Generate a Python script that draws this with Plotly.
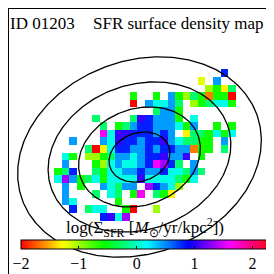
import numpy as np
import plotly.graph_objects as go

_ = None
# log SFR surface density per map pixel; rows 8..27, columns 6..29 of a 36x36 map
ROW0, COL0, N_PIX = 8, 6, 36
r08 = [_]*22 + [0.8, _]
r09 = [_]*19 + [-1.2, _, 0.45, _, _]
r10 = [_]*20 + [-1.0, -0.6, -1.3, -0.25]
r11 = [_]*10 + [-0.6, _, _, -0.6, _, 0.45, -0.6, -1.0, -0.25, -0.6, -1.65, -0.6, -0.6, -2.0]
r12 = [_]*10 + [-2.0, _, 0.45, 0.1, 0.1, 0.45, -0.25, _, -1.0, -0.6, -0.25, 0.1, 0.1, -0.6]
r13 = [_]*13 + [-0.25, 0.45, 0.45, -0.6] + [_]*7
r14 = [_]*5 + [-0.25] + [_]*4 + [-0.25, 1.05, 0.8, 0.45, 0.45, 0.45, -0.6, _, 0.1] + [_]*5
r15 = [_]*6 + [-0.25, _, -0.6, -0.25, 0.45, 0.8, 0.8, 0.45, 0.45, 0.45, 0.1, -0.6, 0.45, _, _, -0.6, _, -0.6]
r16 = [_]*6 + [1.6, 0.1, 1.05, 1.05, 0.8, 0.8, 0.8, 0.45, 0.8, 0.45, _, -1.3, -0.25, -0.25, -0.6, 0.1, -0.6, 0.1]
r17 = [_, _, 0.45, _, _, _] + [0.45, 0.1, 1.05, 0.8, 0.8, 0.45, 0.8, 0.8, 1.05, 0.45, 0.1, -0.25, -0.25, -0.6, -0.6, _, 0.45, _]
r18 = [_]*4 + [-0.25, -2.0, -1.3, 0.1, 0.8, 0.8, 0.45, 0.45, 0.8, 0.45, 0.8, 0.8, 0.45, 0.45, -1.65, -0.6, -0.6, _, -0.25, _]
r19 = [_, 0.1, -0.6, _] + [-1.0, -1.0, -0.6, -0.25, 0.45, 0.45, 0.1, 0.45, 0.8, 0.8, 1.05, 0.45, 0.45, 1.05, _, -0.6] + [_]*4
r20 = [_, 0.45, _, _, _] + [-0.6, -1.0, 0.1, 0.45, 0.1, 0.1, 0.45, 0.8, 1.6, 1.35, 0.8, -0.25, _, 0.45] + [_]*5
r21 = [-0.6, -0.25, 0.8, _, _] + [-0.25, -0.6, 0.1, 0.1, 0.45, 0.45, 0.8, 0.45, 0.45, 0.8, 0.1, 0.1, -0.25, 0.45, -0.25] + [_]*4
r22 = [0.1, 1.35, 0.45, -0.6, -0.25, 0.1, -0.6, 0.1, 0.1, 0.1, 0.1, 1.05, 0.1, 0.1, 0.1, 0.1, -0.25, -0.6, 0.1] + [_]*5
r23 = [_, 0.45, _, -0.6, _, _, 0.45, 0.1, -0.25, 0.45, 0.45, _, 1.35, 0.8, 0.45, 0.1, -1.0] + [_]*7
r24 = [_, 0.45, _, _, _, -0.25, _, 0.1, -0.25, _, -0.6, 1.6, _, -0.25, -0.6, -1.3] + [_]*8
r25 = [_, 0.45, 0.1, _, _, _, _, _, -0.6] + [_]*15
r26 = [_, _, 0.8, _, -0.25, 0.1, 0.1, _, _, -0.6, -2.0, _, _, -1.0] + [_]*10
r27 = [_]*6 + [0.8, 1.05, 0.1, 1.35] + [_]*14
map_rows = [r08, r09, r10, r11, r12, r13, r14, r15, r16, r17,
            r18, r19, r20, r21, r22, r23, r24, r25, r26, r27]

cbar_ticks = [-2, -1, 0, 1, 2]
zmin, zmax = -2.0, 2.27

# elliptical apertures (map-pixel units)
ell_cx, ell_cy = 16.77, 19.09
ell_a, ell_b, ell_pa_deg = 4.13, 3.19, 20.0
ell_steps = [1, 2, 3, 4]

z = [[None] * N_PIX for _i in range(N_PIX)]
for i, row in enumerate(map_rows):
    for j, v in enumerate(row):
        z[ROW0 + i][COL0 + j] = v

# matplotlib 'hsv' colormap
hsv_scale = [
    [0.0, "rgb(255,0,0)"], [0.158730, "rgb(255,239,0)"], [0.174603, "rgb(247,255,0)"],
    [0.333333, "rgb(8,255,0)"], [0.349206, "rgb(0,255,16)"], [0.507937, "rgb(0,255,255)"],
    [0.666667, "rgb(0,16,255)"], [0.682540, "rgb(8,0,255)"], [0.841270, "rgb(247,0,255)"],
    [0.857143, "rgb(255,0,239)"], [1.0, "rgb(255,0,24)"],
]

W = H = 274
M = 1
def px(x):
    return (x - M) / (W - 2 * M)
def py(y):
    return 1 - (y - M) / (H - 2 * M)

fig = go.Figure()
fig.add_trace(go.Heatmap(
    z=z, x=list(range(N_PIX)), y=list(range(N_PIX)),
    colorscale=hsv_scale, zmin=zmin, zmax=zmax, hoverongaps=False,
    colorbar=dict(
        orientation="h", x=px(136.5), xanchor="center",
        y=py(232), yanchor="top", ypad=0, xpad=0,
        len=247, lenmode="pixels", thickness=9,
        outlinecolor="black", outlinewidth=1,
        tickvals=cbar_ticks, ticks="inside", ticklen=3, tickcolor="black",
        tickfont=dict(family="Liberation Serif", size=16, color="black"),
    ),
))

t = np.linspace(0, 2 * np.pi, 400)
pa = np.radians(ell_pa_deg)
for k in ell_steps:
    xe = ell_cx + k * (ell_a * np.cos(t) * np.cos(pa) - ell_b * np.sin(t) * np.sin(pa))
    ye = ell_cy - k * (ell_a * np.cos(t) * np.sin(pa) + ell_b * np.sin(t) * np.cos(pa))
    fig.add_trace(go.Scatter(x=xe, y=ye, mode="lines", line=dict(color="black", width=1.3),
                             hoverinfo="skip", showlegend=False))

font = dict(family="Liberation Serif", size=17, color="black")
fig.add_annotation(x=px(0), y=py(15), xref="paper", yref="paper", text="ID 01203",
                   showarrow=False, xanchor="left", yanchor="middle", font=font)
fig.add_annotation(x=px(83), y=py(15), xref="paper", yref="paper", text="SFR surface density map",
                   showarrow=False, xanchor="left", yanchor="middle", font=font)
fig.add_annotation(x=px(137), y=py(219), xref="paper", yref="paper",
                   text="log(Σ<sub>SFR</sub> [<i>M</i><sub>⊙</sub>/yr/kpc<sup>2</sup>])",
                   showarrow=False, xanchor="center", yanchor="middle",
                   font=dict(family="Liberation Serif", size=17, color="black"))

fig.update_xaxes(range=[-0.5, N_PIX - 0.5], showticklabels=False, ticks="", showgrid=False,
                 zeroline=False, showline=True, mirror=True, linecolor="black", linewidth=1.5)
fig.update_yaxes(range=[N_PIX - 0.5, -0.5], showticklabels=False, ticks="", showgrid=False,
                 zeroline=False, showline=True, mirror=True, linecolor="black", linewidth=1.5)
fig.update_layout(width=W, height=H,
                  margin=dict(l=M, r=M, t=M, b=M, autoexpand=False),
                  plot_bgcolor="white", paper_bgcolor="white", showlegend=False)
fig.write_html("out.html")
